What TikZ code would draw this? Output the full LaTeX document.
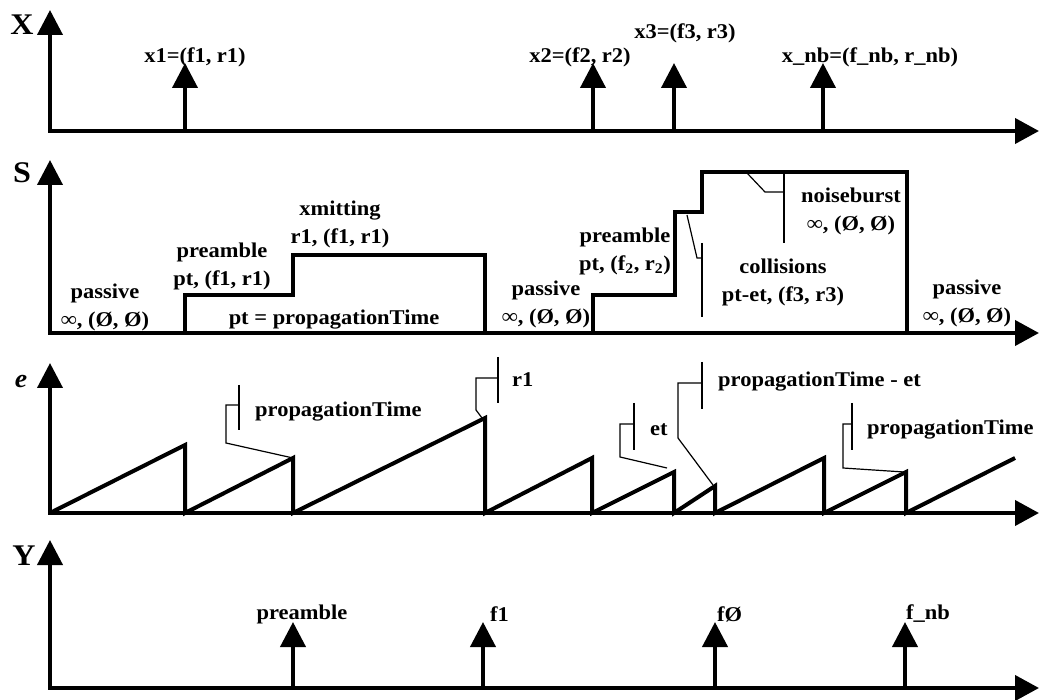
\documentclass[tikz,border=0pt]{standalone}
\usepackage{fontspec}
\setmainfont[FakeStretch=1.07]{Liberation Serif}
\usetikzlibrary{arrows.meta}
\begin{document}
\begin{tikzpicture}[x=1pt,y=-1pt,
  axes/.style={line width=4pt,line join=miter,{Triangle[width=25pt,length=25pt]}-{Triangle[width=25pt,length=24pt]}},
  imp/.style={line width=4pt,-{Triangle[width=25pt,length=25pt]}},
  sig/.style={line width=4pt,line join=miter},
  callout/.style={line width=1.2pt},
  lbl/.style={font=\fontsize{21}{28}\selectfont\bfseries,align=center,inner sep=0pt},
  lblw/.style={lbl,anchor=west},
  axlbl/.style={font=\fontsize{30}{30}\selectfont\bfseries,inner sep=0pt,anchor=base},
]
\useasboundingbox (0,0) rectangle (1039,700);

% ---------- axes ----------
\draw[axes] (50,10) -- (50,131) -- (1039,131);
\draw[axes] (50,160) -- (50,333) -- (1039,333);
\draw[axes] (50,363) -- (50,513) -- (1039,513);
\draw[axes] (50,540) -- (50,688) -- (1039,688);

\node[axlbl] (lX) at (22,35) {X};
\node[axlbl] (lS) at (22,183) {S};
\node[axlbl,font=\fontsize{26}{26}\selectfont\bfseries\itshape] (le) at (21,388) {e};
\node[axlbl] (lY) at (24,565) {Y};

% ---------- X panel ----------
\draw[imp] (185,131) -- (185,63);
\draw[imp] (593,131) -- (593,63);
\draw[imp] (674,131) -- (674,63);
\draw[imp] (823,131) -- (823,63);
\node[lbl] (x1) at (195,57) {x1=(f1, r1)};
\node[lbl] (x2) at (580,57) {x2=(f2, r2)};
\node[lbl] (x3) at (685,33) {x3=(f3, r3)};
\node[lbl] (xnb) at (870,57) {x\_nb=(f\_nb, r\_nb)};

% ---------- S panel ----------
\draw[sig] (185,333) -- (185,295) -- (293,295) -- (293,255) -- (485,255) -- (485,333);
\draw[sig] (593,333) -- (593,295) -- (675,295) -- (675,212) -- (702,212) -- (702,172) -- (907,172) -- (907,333);

\draw[callout] (687,215) -- (697,258) -- (702,258);
\draw[callout] (702,243) -- (702,317);
\draw[callout] (747,173) -- (765,192) -- (784,192);
\draw[callout] (784,173) -- (784,243);

\node[lbl] (s1) at (105,307) {passive\\∞, (Ø, Ø)};
\node[lbl] (s2) at (222,266) {preamble\\pt, (f1, r1)};
\node[lbl] (s3) at (340,224) {xmitting\\r1, (f1, r1)};
\node[lbl] (s4) at (334,320) {pt = propagationTime};
\node[lbl] (s5) at (546,304) {passive\\∞, (Ø, Ø)};
\node[lbl] (s6) at (625,251) {preamble\\pt, (f\textsubscript{2}, r\textsubscript{2})};
\node[lbl] (s7) at (783,282) {collisions\\pt-et, (f3, r3)};
\node[lbl] (s8) at (851,211) {noiseburst\\∞, (Ø, Ø)};
\node[lbl] (s9) at (967,303) {passive\\∞, (Ø, Ø)};

% ---------- e panel ----------
\draw[sig] (50,513) -- (185,445) -- (185,513) -- (293,458) -- (293,513) -- (485,418) -- (485,513)
  -- (592,458) -- (592,513) -- (674,472) -- (674,513) -- (715,486) -- (715,513)
  -- (824,458) -- (824,513) -- (906,472) -- (906,513) -- (1015,458);

\draw[callout] (293,458) -- (226,443) -- (226,405) -- (239,405);
\draw[callout] (239,385) -- (239,430);
\draw[callout] (482,418) -- (476,410) -- (476,378) -- (498,378);
\draw[callout] (498,357) -- (498,403);
\draw[callout] (667,468) -- (620,457) -- (620,424) -- (634,424);
\draw[callout] (634,403) -- (634,450);
\draw[callout] (713,485) -- (678,438) -- (678,383) -- (702,383);
\draw[callout] (702,362) -- (702,409);
\draw[callout] (904,472) -- (843,468) -- (843,424) -- (852,424);
\draw[callout] (852,403) -- (852,450);

\node[lblw] (e1) at (255,412) {propagationTime};
\node[lblw] (e2) at (512,380) {r1};
\node[lblw] (e3) at (650,430) {et};
\node[lblw] (e4) at (718,382) {propagationTime - et};
\node[lblw] (e5) at (867,430) {propagationTime};

% ---------- Y panel ----------
\draw[imp] (293,688) -- (293,622);
\draw[imp] (483,688) -- (483,622);
\draw[imp] (715,688) -- (715,622);
\draw[imp] (905,688) -- (905,622);
\node[lbl] (y1) at (302,614) {preamble};
\node[lblw] (y2) at (490,614) {f1};
\node[lblw] (y3) at (717,614) {fØ};
\node[lblw] (y4) at (906,614) {f\_nb};
\end{tikzpicture}
\end{document}
